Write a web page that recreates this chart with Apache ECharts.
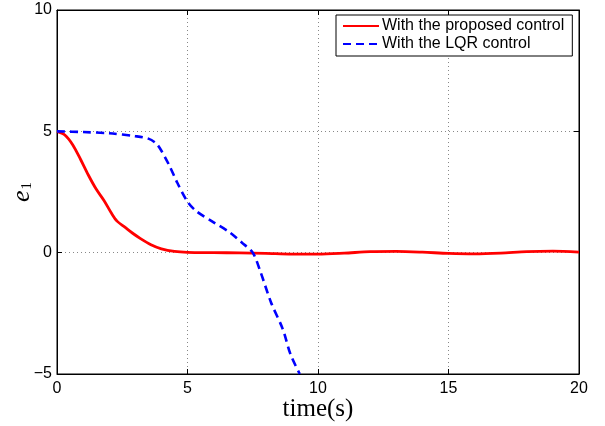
<!DOCTYPE html>
<html>
<head>
<meta charset="utf-8">
<script src="https://cdn.jsdelivr.net/npm/echarts@6/dist/echarts.min.js"></script>
<style>html,body{margin:0;padding:0;background:#fff}#c{width:605px;height:426px}</style>
</head>
<body>
<div id="c"></div>
<script>
const xTicks = [0, 5, 10, 15, 20];
const yTicks = [-5, 0, 5, 10];
const seriesNames = ['With the proposed control', 'With the LQR control'];
const tProposed = [0,0.3,0.6,0.9,1.2,1.5,1.8,2.1,2.3,2.6,2.9,3.2,3.6,4.0,4.5,5,6,7,8,9,10,11,12,13,14,15,16,17,18,19,20];
const eProposed = [5,4.85,4.45,3.85,3.2,2.62,2.15,1.6,1.3,1.05,0.8,0.58,0.33,0.16,0.05,0.01,0.0,-0.01,-0.03,-0.06,-0.06,-0.02,0.04,0.05,0.02,-0.03,-0.05,-0.02,0.04,0.06,0.02];
const tLQR = [0,1,2,3,3.5,3.8,4.0,4.3,4.6,5.0,5.35,6.0,6.6,7.1,7.5,7.8,8.2,8.65,8.95,9.3];
const eLQR = [5,4.97,4.92,4.8,4.7,4.5,4.2,3.6,2.9,2.1,1.7,1.25,0.85,0.4,0.0,-0.8,-2.05,-3.15,-4.2,-5];

const pair = (xs, ys) => xs.map((x, i) => [x, ys[i]]);
const chart = echarts.init(document.getElementById('c'));
const fmt = v => String(v).replace('-', '\u2212');
const tickFont = {fontFamily: 'Liberation Sans', fontSize: 16, color: '#000', formatter: fmt};
const splitDotted = {show: true, lineStyle: {color: '#888', type: [1, 3], width: 1}};
const line = {show: true, onZero: false, lineStyle: {color: '#000', width: 1}};
const tick = {show: true, inside: true, length: 5, lineStyle: {color: '#000'}};
chart.setOption({
  animation: false,
  backgroundColor: '#fff',
  grid: {left: 57, right: 26, top: 10, bottom: 52, containLabel: false, outerBoundsMode: 'none', show: true, borderColor: '#000', borderWidth: 1},
  legend: {
    left: 336, top: 15, orient: 'vertical',
    borderColor: '#000', borderWidth: 1, backgroundColor: '#fff',
    padding: [3, 8, 4, 6], itemWidth: 36, itemHeight: 14, itemGap: 2,
    itemStyle: {opacity: 0},
    textStyle: {fontFamily: 'Liberation Sans', fontSize: 16, color: '#000', padding: [0, 0, 0, -2]},
    data: seriesNames
  },
  xAxis: [{
    type: 'value', min: xTicks[0], max: xTicks[xTicks.length - 1], interval: 5,
    name: 'time(s)', nameLocation: 'middle', nameGap: 23, nameMoveOverlap: false,
    nameTextStyle: {fontFamily: 'Liberation Serif', fontSize: 25, color: '#000'},
    axisLine: line, axisTick: tick,
    axisLabel: Object.assign({margin: 7}, tickFont),
    splitLine: splitDotted
  }, {
    type: 'value', position: 'top', min: 0, max: 20, interval: 5,
    axisLine: line, axisTick: tick,
    axisLabel: {show: false}, splitLine: {show: false}
  }],
  yAxis: [{
    type: 'value', min: yTicks[0], max: yTicks[yTicks.length - 1], interval: 5,
    name: '{e|e}{s|1}', nameLocation: 'middle', nameGap: 22, nameRotate: 90, nameMoveOverlap: false,
    nameTextStyle: {
      rich: {
        e: {fontFamily: 'Liberation Serif', fontStyle: 'italic', fontSize: 26, color: '#000'},
        s: {fontFamily: 'Liberation Serif', fontSize: 15, color: '#000', verticalAlign: 'bottom', padding: [10, 0, 0, 1]}
      }
    },
    axisLine: line, axisTick: tick,
    axisLabel: Object.assign({margin: 5}, tickFont),
    splitLine: splitDotted
  }, {
    type: 'value', position: 'right', min: -5, max: 10, interval: 5,
    axisLine: line, axisTick: tick,
    axisLabel: {show: false}, splitLine: {show: false}
  }],
  series: [{
    name: seriesNames[0], type: 'line', symbol: 'none', smooth: 0.3,
    data: pair(tProposed, eProposed),
    lineStyle: {color: '#ff0000', width: 2.8}, itemStyle: {color: '#ff0000'}, z: 3
  }, {
    name: seriesNames[1], type: 'line', symbol: 'none', smooth: 0.3,
    data: pair(tLQR, eLQR),
    lineStyle: {color: '#0000ff', width: 2.6, type: [8, 5]}, itemStyle: {color: '#0000ff'}, z: 4
  }]
});
</script>
</body>
</html>
